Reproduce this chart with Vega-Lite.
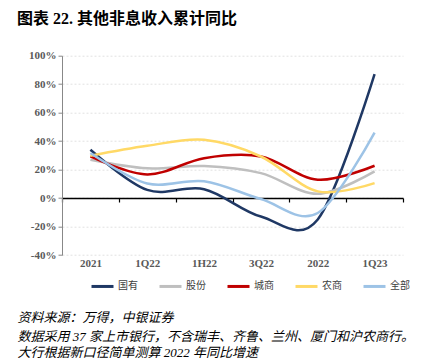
{
  "$schema": "https://vega.github.io/schema/vega-lite/v6.json",
  "width": 341,
  "height": 199.3,
  "autosize": {"type": "none"},
  "padding": {"left": 62, "top": 55.7, "right": 23, "bottom": 104},
  "background": "white",
  "title": {
    "text": "图表 22. 其他非息收入累计同比",
    "anchor": "start",
    "frame": "group",
    "dx": -45,
    "offset": 23,
    "font": "Liberation Serif, Noto Sans CJK SC",
    "fontSize": 16,
    "fontWeight": "bold",
    "color": "#000000"
  },
  "config": {"view": {"stroke": null}},
  "data": {
    "values": [
      {"q": "2021", "type": "国有", "v": 33.9},
      {"q": "1Q22", "type": "国有", "v": 5.7},
      {"q": "1H22", "type": "国有", "v": 6.2},
      {"q": "3Q22", "type": "国有", "v": -13},
      {"q": "2022", "type": "国有", "v": -15},
      {"q": "1Q23", "type": "国有", "v": 87},
      {"q": "2021", "type": "股份", "v": 26.9},
      {"q": "1Q22", "type": "股份", "v": 20.9},
      {"q": "1H22", "type": "股份", "v": 22.5},
      {"q": "3Q22", "type": "股份", "v": 17.5},
      {"q": "2022", "type": "股份", "v": 3},
      {"q": "1Q23", "type": "股份", "v": 18.7},
      {"q": "2021", "type": "城商", "v": 29.2},
      {"q": "1Q22", "type": "城商", "v": 16.6},
      {"q": "1H22", "type": "城商", "v": 28},
      {"q": "3Q22", "type": "城商", "v": 29.2},
      {"q": "2022", "type": "城商", "v": 12.9},
      {"q": "1Q23", "type": "城商", "v": 22.7},
      {"q": "2021", "type": "农商", "v": 29.7},
      {"q": "1Q22", "type": "农商", "v": 36.7},
      {"q": "1H22", "type": "农商", "v": 40.9},
      {"q": "3Q22", "type": "农商", "v": 29.2},
      {"q": "2022", "type": "农商", "v": 4.7},
      {"q": "1Q23", "type": "农商", "v": 10.5},
      {"q": "2021", "type": "全部", "v": 31.6},
      {"q": "1Q22", "type": "全部", "v": 10.2},
      {"q": "1H22", "type": "全部", "v": 11.8},
      {"q": "3Q22", "type": "全部", "v": -0.7},
      {"q": "2022", "type": "全部", "v": -10.5},
      {"q": "1Q23", "type": "全部", "v": 46}
    ]
  },
  "mark": {"type": "line", "interpolate": "cardinal", "strokeWidth": 2.5},
  "encoding": {
    "x": {
      "field": "q",
      "type": "ordinal",
      "sort": ["2021", "1Q22", "1H22", "3Q22", "2022", "1Q23"],
      "scale": {"paddingInner": 0, "paddingOuter": 0},
      "axis": {
        "title": "资料来源：万得，中银证券",
        "offset": -57,
        "grid": false,
        "domainColor": "#000000",
        "domainWidth": 1.5,
        "tickColor": "#000000",
        "tickWidth": 1.2,
        "tickSize": 4,
        "tickBand": "extent",
        "labelPadding": 55,
        "labelAngle": 0,
        "labelFont": "Liberation Serif",
        "labelFontWeight": "bold",
        "labelFontSize": 11,
        "labelColor": "#595959",
        "titleFont": "Liberation Serif, Noto Sans CJK SC",
        "titleFontStyle": "italic",
        "titleFontWeight": "normal",
        "titleFontSize": 13,
        "titleColor": "#000000",
        "titleAnchor": "start",
        "titleAlign": "left",
        "titleBaseline": "middle",
        "titleX": -45,
        "titleY": 119.6
      }
    },
    "y": {
      "field": "v",
      "type": "quantitative",
      "scale": {"domain": [-40, 100], "nice": false},
      "axis": {
        "values": [-40, -20, 0, 20, 40, 60, 80, 100],
        "labelExpr": "datum.value + '%'",
        "grid": true,
        "gridColor": "#D9D9D9",
        "gridDash": [2, 2],
        "gridWidth": 0.8,
        "domainColor": "#888888",
        "tickColor": "#888888",
        "tickSize": 4,
        "labelFont": "Liberation Serif",
        "labelFontWeight": "bold",
        "labelFontSize": 11,
        "labelColor": "#595959",
        "labelPadding": 2,
        "title": ["数据采用 37 家上市银行，不含瑞丰、齐鲁、兰州、厦门和沪农商行。", "大行根据新口径简单测算 2022 年同比增速"],
        "titleAngle": 0,
        "titleFont": "Liberation Serif, Noto Sans CJK SC",
        "titleFontStyle": "italic",
        "titleFontWeight": "normal",
        "titleFontSize": 13,
        "titleLineHeight": 15.6,
        "titleColor": "#000000",
        "titleAnchor": "start",
        "titleAlign": "left",
        "titleBaseline": "top",
        "titleX": -45,
        "titleY": 275
      }
    },
    "color": {
      "field": "type",
      "type": "nominal",
      "scale": {
        "domain": ["国有", "股份", "城商", "农商", "全部"],
        "range": ["#1F3864", "#BFBFBF", "#C00000", "#FFD966", "#9DC3E6"]
      },
      "legend": {
        "title": null,
        "orient": "none",
        "legendX": 28,
        "legendY": 218,
        "direction": "horizontal",
        "columns": 5,
        "padding": 0,
        "symbolType": "stroke",
        "symbolSize": 484,
        "symbolStrokeWidth": 3,
        "labelFont": "Noto Sans CJK SC",
        "labelFontSize": 10,
        "labelColor": "#404040",
        "labelOffset": 3,
        "columnPadding": 15
      }
    }
  }
}
